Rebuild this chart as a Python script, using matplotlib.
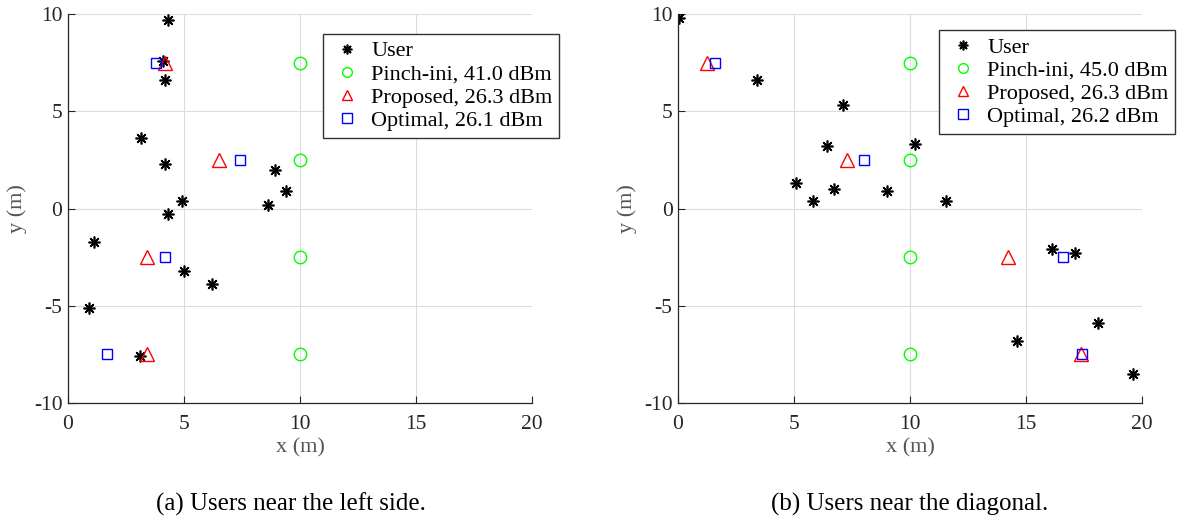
import matplotlib
matplotlib.use("Agg")
import matplotlib.pyplot as plt

plt.rcParams['font.family'] = ['Liberation Serif', 'DejaVu Serif']

# (a) users near the left side
users_a_x = [4.3, 4.1, 4.2, 3.15, 4.2, 8.9, 9.4, 4.9, 8.6, 4.3, 1.1, 5.0, 6.2, 0.9, 3.1]
users_a_y = [9.7, 7.6, 6.6, 3.6, 2.3, 2.0, 0.9, 0.4, 0.2, -0.3, -1.7, -3.2, -3.9, -5.1, -7.6]
pinch_a_x = [10, 10, 10, 10]
pinch_a_y = [7.5, 2.5, -2.5, -7.5]
prop_a_x = [4.2, 6.5, 3.4, 3.4]
prop_a_y = [7.5, 2.5, -2.5, -7.5]
opt_a_x = [3.8, 7.4, 4.2, 1.7]
opt_a_y = [7.5, 2.5, -2.5, -7.5]
labels_a = ["User", "Pinch-ini, 41.0 dBm", "Proposed, 26.3 dBm", "Optimal, 26.1 dBm"]

# (b) users near the diagonal
users_b_x = [0.05, 3.4, 7.1, 6.4, 10.2, 5.1, 5.8, 6.7, 9.0, 11.55, 16.1, 17.1, 18.1, 14.6, 19.6]
users_b_y = [9.8, 6.6, 5.3, 3.2, 3.3, 1.3, 0.4, 1.0, 0.9, 0.4, -2.1, -2.3, -5.9, -6.8, -8.5]
pinch_b_x = [10, 10, 10, 10]
pinch_b_y = [7.5, 2.5, -2.5, -7.5]
prop_b_x = [1.25, 7.3, 14.2, 17.35]
prop_b_y = [7.5, 2.5, -2.5, -7.5]
opt_b_x = [1.6, 8.0, 16.6, 17.4]
opt_b_y = [7.5, 2.5, -2.5, -7.5]
labels_b = ["User", "Pinch-ini, 45.0 dBm", "Proposed, 26.3 dBm", "Optimal, 26.2 dBm"]

fig = plt.figure(figsize=(11.85, 5.21), dpi=100)
ax1 = fig.add_axes([0.0574, 0.2265, 0.3916, 0.7466])
ax2 = fig.add_axes([0.5722, 0.2265, 0.3916, 0.7466])

axis_col = '#262626'


def draw(ax, ux, uy, cx, cy, px, py, ox, oy, labels, leg_anchor):
    ax.plot(ux, uy, linestyle='none', marker=(8, 2, 0), markersize=8.5,
            markeredgewidth=1.2, color='black', label=labels[0])
    ax.plot(cx, cy, linestyle='none', marker='o', markersize=9, markerfacecolor='none',
            markeredgecolor=(0, 1, 0), markeredgewidth=1.0, label=labels[1])
    ax.plot(px, py, linestyle='none', marker='^', markersize=10, markerfacecolor='none',
            markeredgecolor=(1, 0, 0), markeredgewidth=1.0, label=labels[2])
    ax.plot(ox, oy, linestyle='none', marker='s', markersize=6.5, markerfacecolor='none',
            markeredgecolor=(0, 0, 1), markeredgewidth=1.0, label=labels[3])
    ax.set_xlim(0, 20)
    ax.set_ylim(-10, 10)
    ax.set_xticks([0, 5, 10, 15, 20])
    ax.set_yticks([-10, -5, 0, 5, 10])
    ax.set_yticklabels(['-10', '-5', '0', '5', '10'])
    ax.grid(True, color='#dcdcdc', linewidth=0.8)
    ax.set_axisbelow(True)
    ax.spines['top'].set_visible(False)
    ax.spines['right'].set_visible(False)
    for s in ('left', 'bottom'):
        ax.spines[s].set_color(axis_col)
        ax.spines[s].set_linewidth(0.9)
    ax.tick_params(direction='in', length=5, width=0.8, colors=axis_col,
                   labelsize=15.5)
    ax.tick_params(axis='x', pad=9)
    ax.tick_params(axis='y', pad=4)
    ax.set_xlabel('x (m)', fontsize=16, color='#555555', labelpad=3)
    ax.set_ylabel('y (m)', fontsize=16, color='#555555', labelpad=5)
    leg = ax.legend(loc='upper right', bbox_to_anchor=leg_anchor, fontsize=16,
                    frameon=True, fancybox=False, edgecolor='#333333',
                    borderpad=0.3, labelspacing=0.12, handletextpad=0.35,
                    handlelength=1.5, borderaxespad=0.0)
    leg.get_frame().set_linewidth(1.0)
    leg.get_frame().set_alpha(1.0)
    for h in leg.legend_handles:
        h.set_markersize(7)


draw(ax1, users_a_x, users_a_y, pinch_a_x, pinch_a_y, prop_a_x, prop_a_y,
     opt_a_x, opt_a_y, labels_a, (1.058, 0.948))
draw(ax2, users_b_x, users_b_y, pinch_b_x, pinch_b_y, prop_b_x, prop_b_y,
     opt_b_x, opt_b_y, labels_b, (1.071, 0.958))

fig.text(0.2455, 0.032, '(a) Users near the left side.', ha='center', va='center', fontsize=18)
fig.text(0.768, 0.032, '(b) Users near the diagonal.', ha='center', va='center', fontsize=18)

fig.savefig('out.png', dpi=100)
